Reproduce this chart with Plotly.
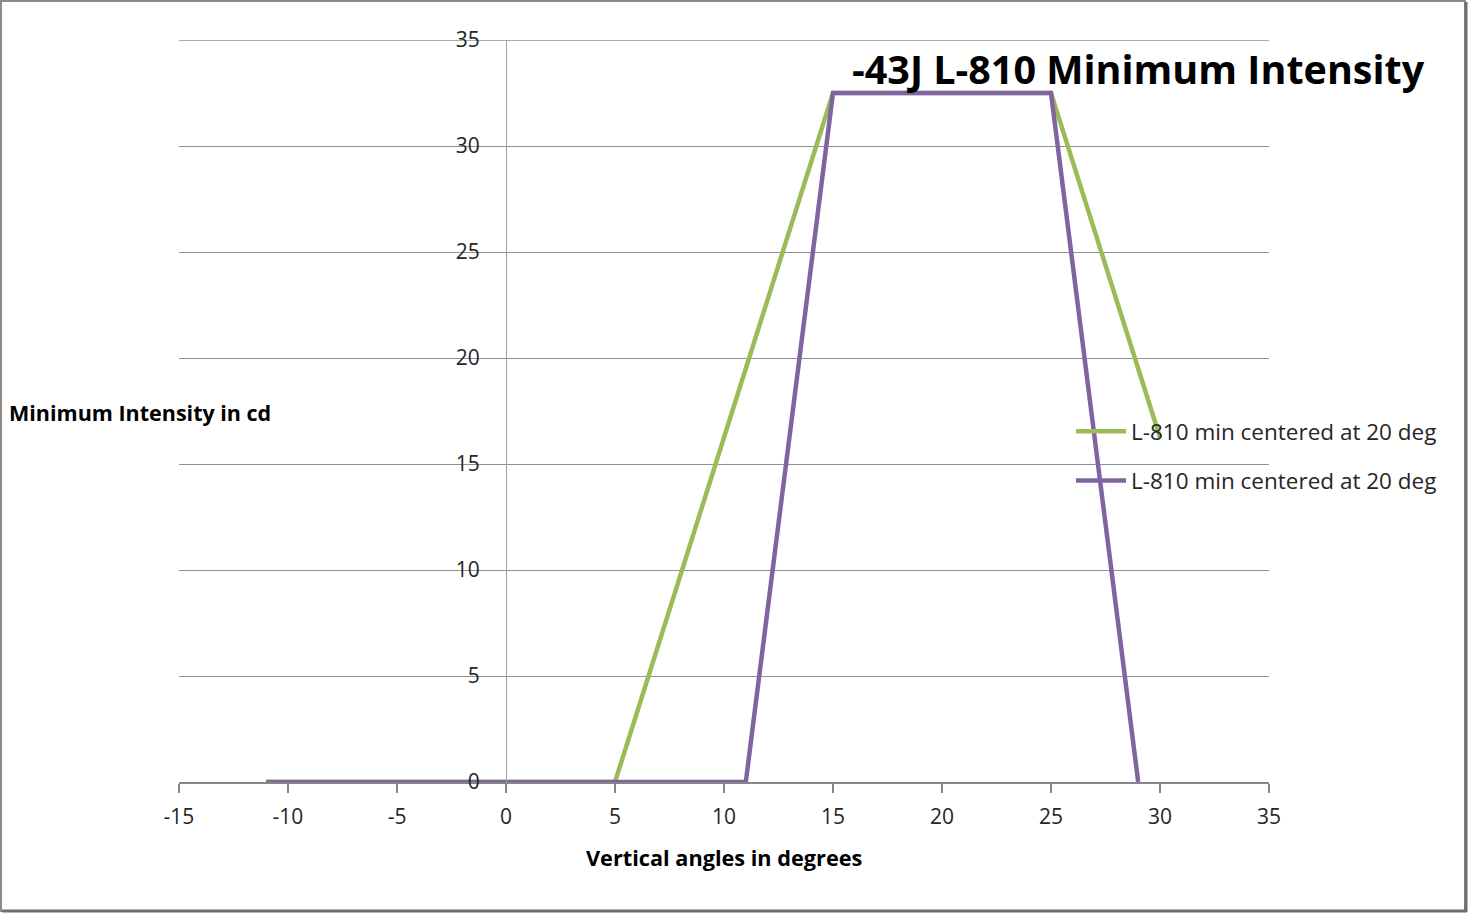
import plotly.graph_objects as go

# Vertical angle (deg) vs minimum intensity (cd)
green_x = [-11, 5, 15, 25, 30]
green_y = [0, 0, 32.5, 32.5, 16.25]
purple_x = [-11, 11, 15, 25, 29]
purple_y = [0, 0, 32.5, 32.5, 0]
series_name = "L-810 min centered at 20 deg"

x_range = [-15, 35]
y_range = [0, 35]
x_ticks = [-15, -10, -5, 0, 5, 10, 15, 20, 25, 30, 35]
x_tick_text = ["-15", "-10", "-5", "0", "5", "10", "15", "20", "25", "30", "35"]

W, H = 1468, 913
ML, MR, MT, MB = 179, 199, 40, 131
PW, PH = W - ML - MR, H - MT - MB

FONT = "Open Sans"
TXT = "#262626"

fig = go.Figure()
fig.add_trace(go.Scatter(x=green_x, y=green_y, mode="lines", name=series_name,
                         legendgroup="g1",
                         line=dict(color="#9BBB59", width=4.5)))
fig.add_trace(go.Scatter(x=purple_x, y=purple_y, mode="lines", name=series_name,
                         legendgroup="g2",
                         line=dict(color="#8064A2", width=4.5)))

# y axis crosses at x = 0
y_pos = (0 - x_range[0]) / (x_range[1] - x_range[0])


def px_x(p):
    return (p - ML) / PW


def px_y(p):
    return 1 - (p - MT) / PH


fig.update_layout(
    width=W, height=H,
    margin=dict(l=ML, r=MR, t=MT, b=MB),
    paper_bgcolor="white", plot_bgcolor="white",
    font=dict(family=FONT, size=21, color=TXT),
    xaxis=dict(range=x_range, tickvals=x_ticks, ticktext=x_tick_text,
               showgrid=False, zeroline=False,
               showline=True, linecolor="#868686", linewidth=1.5,
               ticks="outside", ticklen=9, tickcolor="#868686", tickwidth=1.5,
               ticklabelstandoff=6,
               tickfont=dict(size=21, color=TXT, family=FONT), fixedrange=True),
    yaxis=dict(range=y_range, dtick=5, showgrid=True, gridcolor="#909090", gridwidth=1.3,
               zeroline=False, showline=True, linecolor="#a0a0a0", linewidth=1.3,
               anchor="free", position=y_pos, ticks="", ticklabelstandoff=22,
               tickfont=dict(size=21, color=TXT, family=FONT), fixedrange=True),
    legend=dict(x=px_x(1071), y=px_y(410), xanchor="left", yanchor="top",
                bgcolor="rgba(0,0,0,0)", font=dict(size=22.5, color=TXT, family=FONT),
                tracegroupgap=17, itemwidth=50),
    showlegend=True,
)

# top gridline at the upper end of the range
fig.add_shape(type="line", xref="paper", yref="y", x0=0, x1=1, y0=y_range[1], y1=y_range[1],
              line=dict(color="#909090", width=1.3), layer="below")

fig.add_annotation(text="<b>-43J L-810 Minimum Intensity</b>", xref="paper", yref="paper",
                   x=px_x(1427), y=px_y(69), xanchor="right", yanchor="middle",
                   showarrow=False, font=dict(size=39.5, color="black", family=FONT))
fig.add_annotation(text="<b>Vertical angles in degrees</b>", xref="paper", yref="paper",
                   x=px_x(724), y=px_y(857), xanchor="center", yanchor="middle",
                   showarrow=False, font=dict(size=21.7, color="black", family=FONT))
fig.add_annotation(text="<b>Minimum Intensity in cd</b>", xref="paper", yref="paper",
                   x=px_x(7), y=px_y(412), xanchor="left", yanchor="middle",
                   showarrow=False, font=dict(size=21.5, color="black", family=FONT))

# outer frame of the chart area
fig.add_shape(type="rect", xref="paper", yref="paper",
              x0=px_x(1), y0=px_y(911), x1=px_x(1465), y1=px_y(1),
              line=dict(color="#8c8c8c", width=2), fillcolor="rgba(0,0,0,0)", layer="above")
fig.add_shape(type="line", xref="paper", yref="paper",
              x0=px_x(1466), y0=px_y(912), x1=px_x(1466), y1=px_y(2),
              line=dict(color="#6e6e6e", width=3))
fig.add_shape(type="line", xref="paper", yref="paper",
              x0=px_x(2), y0=px_y(911), x1=px_x(1467), y1=px_y(911),
              line=dict(color="#6e6e6e", width=3))

fig.write_html("out.html")
